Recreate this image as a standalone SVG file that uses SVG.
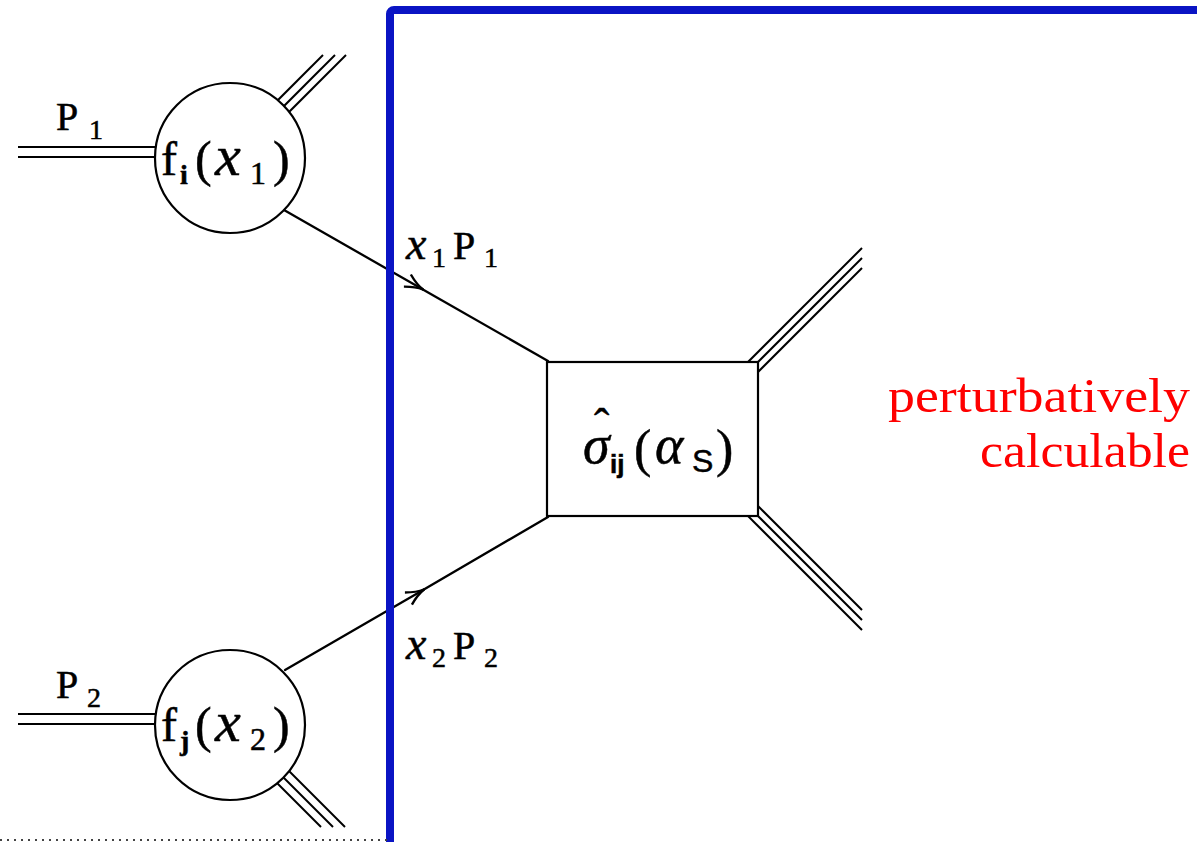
<svg xmlns="http://www.w3.org/2000/svg" width="1197" height="842" viewBox="0 0 1197 842">
<defs>
<style>
.ln{stroke:#000;stroke-width:2.3;fill:none;stroke-linecap:round}
.dl{stroke:#000;stroke-width:2;fill:none}
.node{fill:#fff;stroke:#000;stroke-width:2.2}
.t{font-family:"Liberation Serif",serif;fill:#000;stroke:#000;stroke-width:0.5}
.s{font-family:"Liberation Sans",sans-serif;fill:#000}
.red{font-family:"Liberation Serif",serif;fill:#ff0000;font-size:48px}
</style>
<marker id="arr" viewBox="-20 -9 22 18" markerWidth="22" markerHeight="18" refX="0" refY="0" orient="auto" markerUnits="userSpaceOnUse">
<path d="M-18,-7 Q-8,-1.2 0,0 Q-8,1.2 -18,7" fill="none" stroke="#000" stroke-width="2.4"/>
</marker>
</defs>
<rect width="1197" height="842" fill="#fff"/>
<g id="connectors">
<line class="dl" x1="18" y1="147" x2="200" y2="147"/>
<line class="dl" x1="18" y1="157" x2="200" y2="157"/>
<line class="dl" x1="18" y1="714" x2="200" y2="714"/>
<line class="dl" x1="18" y1="724" x2="200" y2="724"/>
<line class="dl" x1="230" y1="148" x2="323" y2="55"/>
<line class="dl" x1="230" y1="160" x2="335" y2="55"/>
<line class="dl" x1="230" y1="171" x2="346" y2="55"/>
<line class="dl" x1="230" y1="736" x2="321" y2="827"/>
<line class="dl" x1="230" y1="724" x2="333" y2="827"/>
<line class="dl" x1="230" y1="712" x2="345" y2="827"/>
<line class="ln" x1="284" y1="210" x2="423" y2="289.5" marker-end="url(#arr)"/>
<line class="ln" x1="422" y1="289" x2="548" y2="361"/>
<line class="ln" x1="285" y1="670" x2="424" y2="589.5" marker-end="url(#arr)"/>
<line class="ln" x1="423" y1="590" x2="548" y2="517"/>
<line class="dl" x1="730" y1="380" x2="862" y2="248"/>
<line class="dl" x1="730" y1="390" x2="862" y2="258"/>
<line class="dl" x1="730" y1="400" x2="862" y2="268"/>
<line class="dl" x1="730" y1="478" x2="862" y2="610"/>
<line class="dl" x1="730" y1="488" x2="862" y2="620"/>
<line class="dl" x1="730" y1="498" x2="862" y2="630"/>
</g>
<g id="pdf1">
<circle class="node" cx="230" cy="158" r="75"/>
<text class="t" font-size="48"><tspan x="161" y="175">f</tspan><tspan x="180" y="184" font-size="28" font-weight="bold">i</tspan><tspan x="195" y="176" font-size="50">(</tspan><tspan x="215" y="175" font-size="58" font-style="italic">x</tspan><tspan x="250" y="184" font-size="32">1</tspan><tspan x="273" y="176" font-size="50">)</tspan></text>
</g>
<g id="pdf2">
<circle class="node" cx="230" cy="725" r="75"/>
<text class="t" font-size="48"><tspan x="161" y="741">f</tspan><tspan x="180" y="750" font-size="28" font-weight="bold">j</tspan><tspan x="195" y="742" font-size="50">(</tspan><tspan x="215" y="741" font-size="58" font-style="italic">x</tspan><tspan x="250" y="750" font-size="32">2</tspan><tspan x="273" y="742" font-size="50">)</tspan></text>
</g>
<g id="hard">
<rect class="node" x="547" y="362" width="211" height="154"/>
<text class="t" font-size="50"><tspan x="594" y="441" font-size="46">ˆ</tspan><tspan x="583" y="463" font-size="54" font-style="italic">σ</tspan><tspan class="s" x="610" y="473" font-size="26" font-weight="bold">ij</tspan><tspan x="634" y="466" font-size="52">(</tspan><tspan x="655" y="463" font-size="54" font-style="italic">α</tspan><tspan class="s" x="692" y="472" font-size="32">S</tspan><tspan x="716" y="466" font-size="52">)</tspan></text>
</g>
<g id="labels">
<text class="t" font-size="40"><tspan x="56" y="130">P</tspan><tspan x="89" y="139" font-size="28">1</tspan></text>
<text class="t" font-size="40"><tspan x="56" y="698">P</tspan><tspan x="87" y="707" font-size="28">2</tspan></text>
<text class="t" font-size="40"><tspan x="406" y="259" font-size="46" font-style="italic">x</tspan><tspan x="432" y="267" font-size="28">1</tspan><tspan x="453" y="259">P</tspan><tspan x="484" y="267" font-size="28">1</tspan></text>
<text class="t" font-size="40"><tspan x="406" y="659" font-size="46" font-style="italic">x</tspan><tspan x="432" y="667" font-size="28">2</tspan><tspan x="453" y="659">P</tspan><tspan x="484" y="667" font-size="28">2</tspan></text>
</g>
<g id="frame">
<rect x="390" y="10" width="900" height="900" rx="4" fill="none" stroke="#0a14c4" stroke-width="8"/>
<line x1="0" y1="840" x2="388" y2="840" stroke="#444" stroke-width="2" stroke-dasharray="2 5"/>
</g>
<g id="note">
<text class="red" x="1190" y="412" text-anchor="end" textLength="302" lengthAdjust="spacingAndGlyphs">perturbatively</text>
<text class="red" x="1190" y="467" text-anchor="end" textLength="210" lengthAdjust="spacingAndGlyphs">calculable</text>
</g>
</svg>
